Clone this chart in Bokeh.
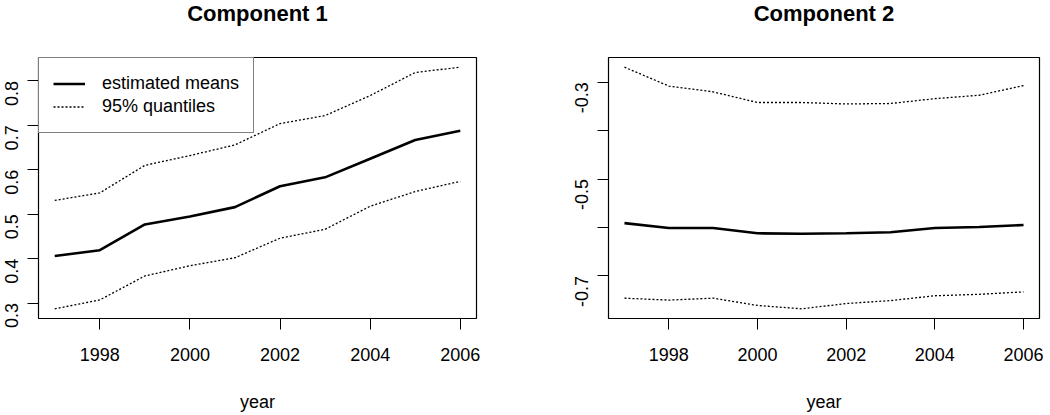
import math
from bokeh.plotting import figure
from bokeh.layouts import row
from bokeh.models import FixedTicker, Legend, LegendItem, Range1d, Title
from bokeh.embed import file_html
from bokeh.resources import INLINE

# ---- data ----
years = [1997, 1998, 1999, 2000, 2001, 2002, 2003, 2004, 2005, 2006]

c1_mean = [0.406, 0.419, 0.477, 0.495, 0.516, 0.563, 0.583, 0.625, 0.667, 0.688]
c1_upper = [0.531, 0.548, 0.610, 0.632, 0.656, 0.704, 0.722, 0.767, 0.819, 0.831]
c1_lower = [0.287, 0.307, 0.361, 0.384, 0.402, 0.446, 0.466, 0.518, 0.551, 0.574]

c2_mean = [-0.591, -0.601, -0.601, -0.612, -0.613, -0.612, -0.610, -0.601, -0.599, -0.595]
c2_upper = [-0.269, -0.308, -0.320, -0.342, -0.342, -0.345, -0.344, -0.334, -0.327, -0.307]
c2_lower = [-0.746, -0.750, -0.746, -0.761, -0.768, -0.757, -0.751, -0.741, -0.738, -0.733]

x_ticks = [1998, 2000, 2002, 2004, 2006]
c1_yticks = [0.3, 0.4, 0.5, 0.6, 0.7, 0.8]
c2_yticks = [-0.7, -0.6, -0.5, -0.4, -0.3]
c2_ylabels = {-0.7: "-0.7", -0.6: "", -0.5: "-0.5", -0.4: "", -0.3: "-0.3"}

titles = ["Component 1", "Component 2"]
x_label = "year"
legend_labels = ["estimated means", "95% quantiles"]

FONT = "Liberation Sans"


def pad_range(vals, frac=0.04):
    lo, hi = min(vals), max(vals)
    r = hi - lo
    return lo - frac * r, hi + frac * r


def make_panel(title, mean, upper, lower, yticks, width, bl, br, overrides=None, legend=False, y_standoff=3):
    x0, x1 = pad_range(years)
    y0, y1 = pad_range(mean + upper + lower)
    p = figure(width=width, height=415, output_backend="svg", toolbar_location=None, title=None,
               x_range=Range1d(x0, x1), y_range=Range1d(y0, y1),
               min_border_left=bl, min_border_right=br, min_border_top=55, min_border_bottom=97)
    p.background_fill_color = "white"
    p.border_fill_color = "white"
    p.grid.visible = False
    p.outline_line_color = "black"
    p.outline_line_width = 1.2

    # spacer between frame and title (closest to the frame)
    spacer = Title(text=" ", text_font_size="1px", standoff=27)
    p.add_layout(spacer, "above")
    t = Title(text=title, align="center", vertical_align="top", text_font=FONT,
              text_font_size="22px", text_font_style="bold", text_color="black", standoff=0)
    p.add_layout(t, "above")

    xa = p.xaxis[0]
    xa.ticker = FixedTicker(ticks=x_ticks)
    xa.axis_line_color = None
    xa.major_tick_line_color = "black"
    xa.major_tick_out = 11
    xa.major_tick_in = 0
    xa.minor_tick_line_color = None
    xa.major_label_text_font = FONT
    xa.major_label_text_font_size = "18px"
    xa.major_label_text_color = "black"
    xa.major_label_standoff = 18
    xa.axis_label = x_label
    xa.axis_label_text_font = FONT
    xa.axis_label_text_font_size = "18px"
    xa.axis_label_text_font_style = "normal"
    xa.axis_label_text_color = "black"
    xa.axis_label_standoff = 28

    ya = p.yaxis[0]
    ya.ticker = FixedTicker(ticks=yticks)
    ya.axis_line_color = None
    ya.major_tick_line_color = "black"
    ya.major_tick_out = 11
    ya.major_tick_in = 0
    ya.minor_tick_line_color = None
    ya.major_label_text_font = FONT
    ya.major_label_text_font_size = "18px"
    ya.major_label_text_color = "black"
    ya.major_label_orientation = math.pi / 2
    ya.major_label_standoff = y_standoff
    if overrides:
        ya.major_label_overrides = overrides

    r_mean = p.line(years, mean, line_color="black", line_width=2.6)
    r_up = p.line(years, upper, line_color="black", line_width=1.3, line_dash="2 2")
    p.line(years, lower, line_color="black", line_width=1.3, line_dash="2 2")

    if legend:
        lg = Legend(items=[LegendItem(label=legend_labels[0], renderers=[r_mean]),
                           LegendItem(label=legend_labels[1], renderers=[r_up])],
                    location="top_left", margin=0, padding=14, spacing=0,
                    glyph_width=32, glyph_height=23, label_height=23, label_standoff=17,
                    border_line_color="black", border_line_width=1,
                    background_fill_color="white", background_fill_alpha=1,
                    label_text_font=FONT, label_text_font_size="18px", label_text_color="black")
        p.add_layout(lg)
    return p


p1 = make_panel(titles[0], c1_mean, c1_upper, c1_lower, c1_yticks, 525, 43, 44, legend=True, y_standoff=16)
p1.margin = (0, 0, 0, -5)
p2 = make_panel(titles[1], c2_mean, c2_upper, c2_lower, c2_yticks, 530, 88, 11, overrides=c2_ylabels, y_standoff=16)

p = row(p1, p2)
open("out.html", "w").write(file_html(p, INLINE))
